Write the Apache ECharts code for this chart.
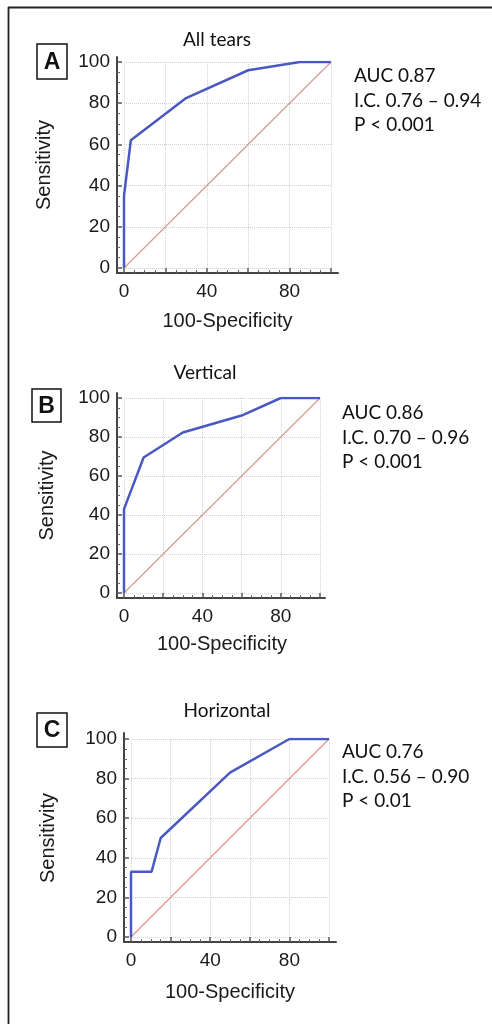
<!DOCTYPE html>
<html>
<head>
<meta charset="utf-8">
<script src="https://cdn.jsdelivr.net/npm/echarts@6/dist/echarts.min.js"></script>
<style>
  html, body { margin: 0; padding: 0; background: #fff; }
  #chart { width: 492px; height: 1024px; }
</style>
</head>
<body>
<div id="chart"></div>
<script>
// panel texts
var panelTitles = ['All tears', 'Vertical', 'Horizontal'];
var panelLetters = ['A', 'B', 'C'];
var aucLines = [
    ['AUC 0.87', 'I.C. 0.76 – 0.94', 'P < 0.001'],
    ['AUC 0.86', 'I.C. 0.70 – 0.96', 'P < 0.001'],
    ['AUC 0.76', 'I.C. 0.56 – 0.90', 'P < 0.01']
];

// ROC curves (100-specificity, sensitivity)
var fprAll = [0, 0, 3.3, 30, 60, 85, 100];
var sensAll = [0, 35, 62, 82.5, 96, 100, 100];
var fprVertical = [0, 0, 10, 30, 60, 80, 100];
var sensVertical = [0, 43, 69.5, 82.3, 91, 100, 100];
var fprHorizontal = [0, 0, 10.4, 15, 50, 80, 100];
var sensHorizontal = [0, 33, 33, 50, 83, 100, 100];

// reference diagonal
var diagX = [0, 100];
var diagY = [0, 100];

// labelled ticks on the x axis
var xTickLabels = [0, 40, 80];

var curves = [
    [fprAll, sensAll],
    [fprVertical, sensVertical],
    [fprHorizontal, sensHorizontal]
];

// pixel layout of every panel
var layout = [
    {left: 124, top: 62, width: 207, height: 206,
     axis: [117, 57, 338, 273], box: [37, 44, 30, 35], title: [217, 40], auc: [354, 76],
     yGap: 63, xGap: 38},
    {left: 124, top: 398, width: 196, height: 195,
     axis: [117, 393, 325, 598], box: [32, 389, 29, 33], title: [205, 373], auc: [342, 413],
     yGap: 60, xGap: 36},
    {left: 131, top: 739, width: 198, height: 198,
     axis: [124, 733, 336, 942], box: [37, 713, 30, 34], title: [227, 711], auc: [342, 752],
     yGap: 66, xGap: 40}
];

function pairs(xs, ys) {
    var out = [];
    for (var i = 0; i < xs.length; i++) out.push([xs[i], ys[i]]);
    return out;
}

var tickFont = {fontFamily: 'Liberation Sans', fontSize: 19, color: '#1a1a1a'};
var nameFont = {fontFamily: 'Liberation Sans', fontSize: 20, color: '#1a1a1a'};
var lineColor = '#4a59c2';
var gridLine = {color: '#d2d2d2', type: 'dotted', width: 1};

var grids = [], xAxes = [], yAxes = [], series = [], graphics = [];

layout.forEach(function(L, i){
    grids.push({left: L.left, top: L.top, width: L.width, height: L.height});
    grids.push({left: L.axis[0], top: L.axis[1], width: L.axis[2] - L.axis[0], height: L.axis[3] - L.axis[1]});

    xAxes.push({
        type: 'value', gridIndex: 2 * i, min: 0, max: 100, interval: 20,
        offset: L.axis[3] - (L.top + L.height),
        axisLine: {show: false, onZero: false},
        axisTick: {show: true, inside: true, length: 5, lineStyle: {color: '#555', width: 1.5}},
        minorTick: {show: true, splitNumber: 4, length: 3, lineStyle: {color: '#666'}},
        axisLabel: {
            margin: 9, fontFamily: tickFont.fontFamily, fontSize: tickFont.fontSize, color: tickFont.color,
            formatter: function(v){ return xTickLabels.indexOf(v) >= 0 ? String(v) : ''; }
        },
        splitLine: {show: true, lineStyle: gridLine},
        name: '100-Specificity', nameLocation: 'middle', nameGap: L.xGap,
        nameTextStyle: nameFont
    });
    xAxes.push({
        type: 'value', gridIndex: 2 * i + 1, min: 0, max: 1,
        axisLine: {show: true, onZero: false, lineStyle: {color: '#444', width: 2}},
        axisTick: {show: false}, axisLabel: {show: false}, splitLine: {show: false}
    });

    yAxes.push({
        type: 'value', gridIndex: 2 * i, min: 0, max: 100, interval: 20,
        offset: L.left - L.axis[0],
        axisLine: {show: false, onZero: false},
        axisTick: {show: true, inside: true, length: 5, lineStyle: {color: '#555', width: 1.5}},
        minorTick: {show: true, splitNumber: 4, length: 3, lineStyle: {color: '#666'}},
        axisLabel: {margin: 7, fontFamily: tickFont.fontFamily, fontSize: tickFont.fontSize, color: tickFont.color},
        splitLine: {show: true, lineStyle: gridLine},
        name: 'Sensitivity', nameLocation: 'middle', nameGap: L.yGap,
        nameTextStyle: nameFont
    });
    yAxes.push({
        type: 'value', gridIndex: 2 * i + 1, min: 0, max: 1,
        axisLine: {show: true, onZero: false, lineStyle: {color: '#444', width: 2}},
        axisTick: {show: false}, axisLabel: {show: false}, splitLine: {show: false}
    });

    series.push({
        type: 'line', xAxisIndex: 2 * i, yAxisIndex: 2 * i,
        data: pairs(diagX, diagY), symbol: 'none', silent: true,
        lineStyle: {color: '#d69a90', width: 1.2}, z: 2
    });
    series.push({
        type: 'line', xAxisIndex: 2 * i, yAxisIndex: 2 * i,
        data: pairs(curves[i][0], curves[i][1]), symbol: 'none',
        lineStyle: {color: lineColor, width: 2.5}, z: 3
    });

    // panel title
    graphics.push({
        type: 'text', x: L.title[0], y: L.title[1],
        style: {text: panelTitles[i], align: 'center', verticalAlign: 'middle',
                font: '19px Lato', fill: '#111'}
    });
    // letter box
    graphics.push({
        type: 'rect', shape: {x: L.box[0], y: L.box[1], width: L.box[2], height: L.box[3]},
        style: {fill: '#fff', stroke: '#111', lineWidth: 1.5}
    });
    graphics.push({
        type: 'text', x: L.box[0] + L.box[2] / 2, y: L.box[1] + L.box[3] / 2 + 1,
        style: {text: panelLetters[i], align: 'center', verticalAlign: 'middle',
                font: 'bold 23px "Liberation Sans"', fill: '#111'}
    });
    // AUC block
    aucLines[i].forEach(function(t, k){
        graphics.push({
            type: 'text', x: L.auc[0], y: L.auc[1] + k * 24.5,
            style: {text: t, align: 'left', verticalAlign: 'middle', font: '19px Lato', fill: '#111'}
        });
    });
});

// outer frame (top and left edges only are visible)
graphics.push({type: 'line', shape: {x1: 8, y1: 7.5, x2: 492, y2: 7.5}, style: {stroke: '#222', lineWidth: 1.8}});
graphics.push({type: 'line', shape: {x1: 8.5, y1: 7, x2: 8.5, y2: 1024}, style: {stroke: '#222', lineWidth: 1.8}});

var myChart = echarts.init(document.getElementById('chart'));
var option = {
    backgroundColor: '#fff',
    animation: false,
    grid: grids,
    xAxis: xAxes,
    yAxis: yAxes,
    series: series,
    graphic: graphics
};
myChart.setOption(option, true);
</script>
</body>
</html>
